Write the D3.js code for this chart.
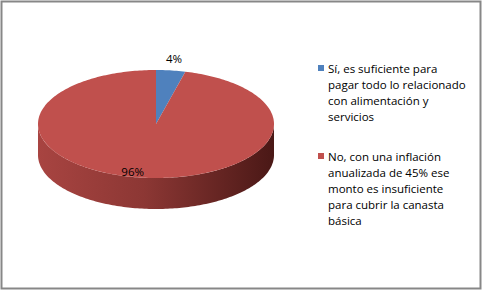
<!DOCTYPE html>
<html>
<head>
<meta charset="utf-8">
<script src="https://cdn.jsdelivr.net/npm/d3@7"></script>
<style>
  html, body { margin: 0; padding: 0; background: #fff; }
  svg { display: block; font-family: "Open Sans", sans-serif; }
</style>
</head>
<body>
<svg id="chart" width="483" height="291"></svg>
<script>
// data
const categories = ['Sí', 'No']
const values = [4, 96]
const labels = ['4%', '96%']
const legendLines = [
  ['Sí, es suficiente para', 'pagar todo lo relacionado', 'con alimentación y', 'servicios'],
  ['No, con una inflación', 'anualizada de 45% ese', 'monto es insuficiente', 'para cubrir la canasta', 'básica']
]
const colors = ['#4F81BD', '#C0504D']
const sideColors = [['#3d6797', '#22406a'], ['#a84441', '#4a1816']]

const svg = d3.select('#chart')

// frame
svg.append('rect')
  .attr('x', 1.5).attr('y', 1.5)
  .attr('width', 479).attr('height', 287)
  .attr('fill', '#fff').attr('stroke', '#878787').attr('stroke-width', 2)

const cx = 156, cy = 124, rx = 118, ry = 54, depth = 31

const pie = d3.pie().sort(null).value(d => d)
const arcs = pie(values)

const pt = (a, dy = 0) => [cx + rx * Math.sin(a), cy - ry * Math.cos(a) + dy]

function arcPoints(a0, a1, dy = 0) {
  const n = Math.max(2, Math.ceil((a1 - a0) / 0.02))
  return d3.range(n + 1).map(i => pt(a0 + (a1 - a0) * i / n, dy))
}

const defs = svg.append('defs')
sideColors.forEach((c, i) => {
  const g = defs.append('linearGradient')
    .attr('id', 'side' + i)
    .attr('gradientUnits', 'userSpaceOnUse')
    .attr('x1', cx - rx).attr('x2', cx + rx).attr('y1', 0).attr('y2', 0)
  g.append('stop').attr('offset', '0%').attr('stop-color', c[0])
  g.append('stop').attr('offset', '45%').attr('stop-color', d3.interpolateRgb(c[0], c[1])(0.3))
  g.append('stop').attr('offset', '100%').attr('stop-color', c[1])
})

const line = d3.line()

// side walls (front half only)
arcs.forEach((d, i) => {
  const a0 = Math.max(d.startAngle, Math.PI / 2)
  const a1 = Math.min(d.endAngle, Math.PI * 3 / 2)
  if (a1 <= a0) return
  const top = arcPoints(a0, a1)
  const bottom = arcPoints(a0, a1, depth).reverse()
  svg.append('path')
    .attr('d', line(top.concat(bottom)) + 'Z')
    .attr('fill', `url(#side${i})`)
})

// top faces
arcs.forEach((d, i) => {
  const pts = [[cx, cy]].concat(arcPoints(d.startAngle, d.endAngle))
  svg.append('path')
    .attr('d', line(pts) + 'Z')
    .attr('fill', colors[i])
})

// data labels
arcs.forEach((d, i) => {
  const mid = (d.startAngle + d.endAngle) / 2
  const k = d.value < 10 ? 1.22 : 0.9
  const x = cx + rx * k * Math.sin(mid) - (d.value < 10 ? 0 : 10)
  const y = cy - ry * k * Math.cos(mid)
  svg.append('text')
    .attr('x', x).attr('y', y + 4)
    .attr('text-anchor', 'middle')
    .attr('font-size', 11.5)
    .attr('fill', '#000')
    .text(labels[i])
})

// legend
const lineH = 16
const legendY = [73, 161]
legendLines.forEach((lines, i) => {
  const g = svg.append('g')
  g.append('rect')
    .attr('x', 318).attr('y', legendY[i] - 8)
    .attr('width', 6).attr('height', 6)
    .attr('fill', colors[i])
  lines.forEach((t, j) => {
    g.append('text')
      .attr('x', 328).attr('y', legendY[i] + j * lineH)
      .attr('font-size', 11.5)
      .attr('fill', '#000')
      .text(t)
  })
})
</script>
</body>
</html>
